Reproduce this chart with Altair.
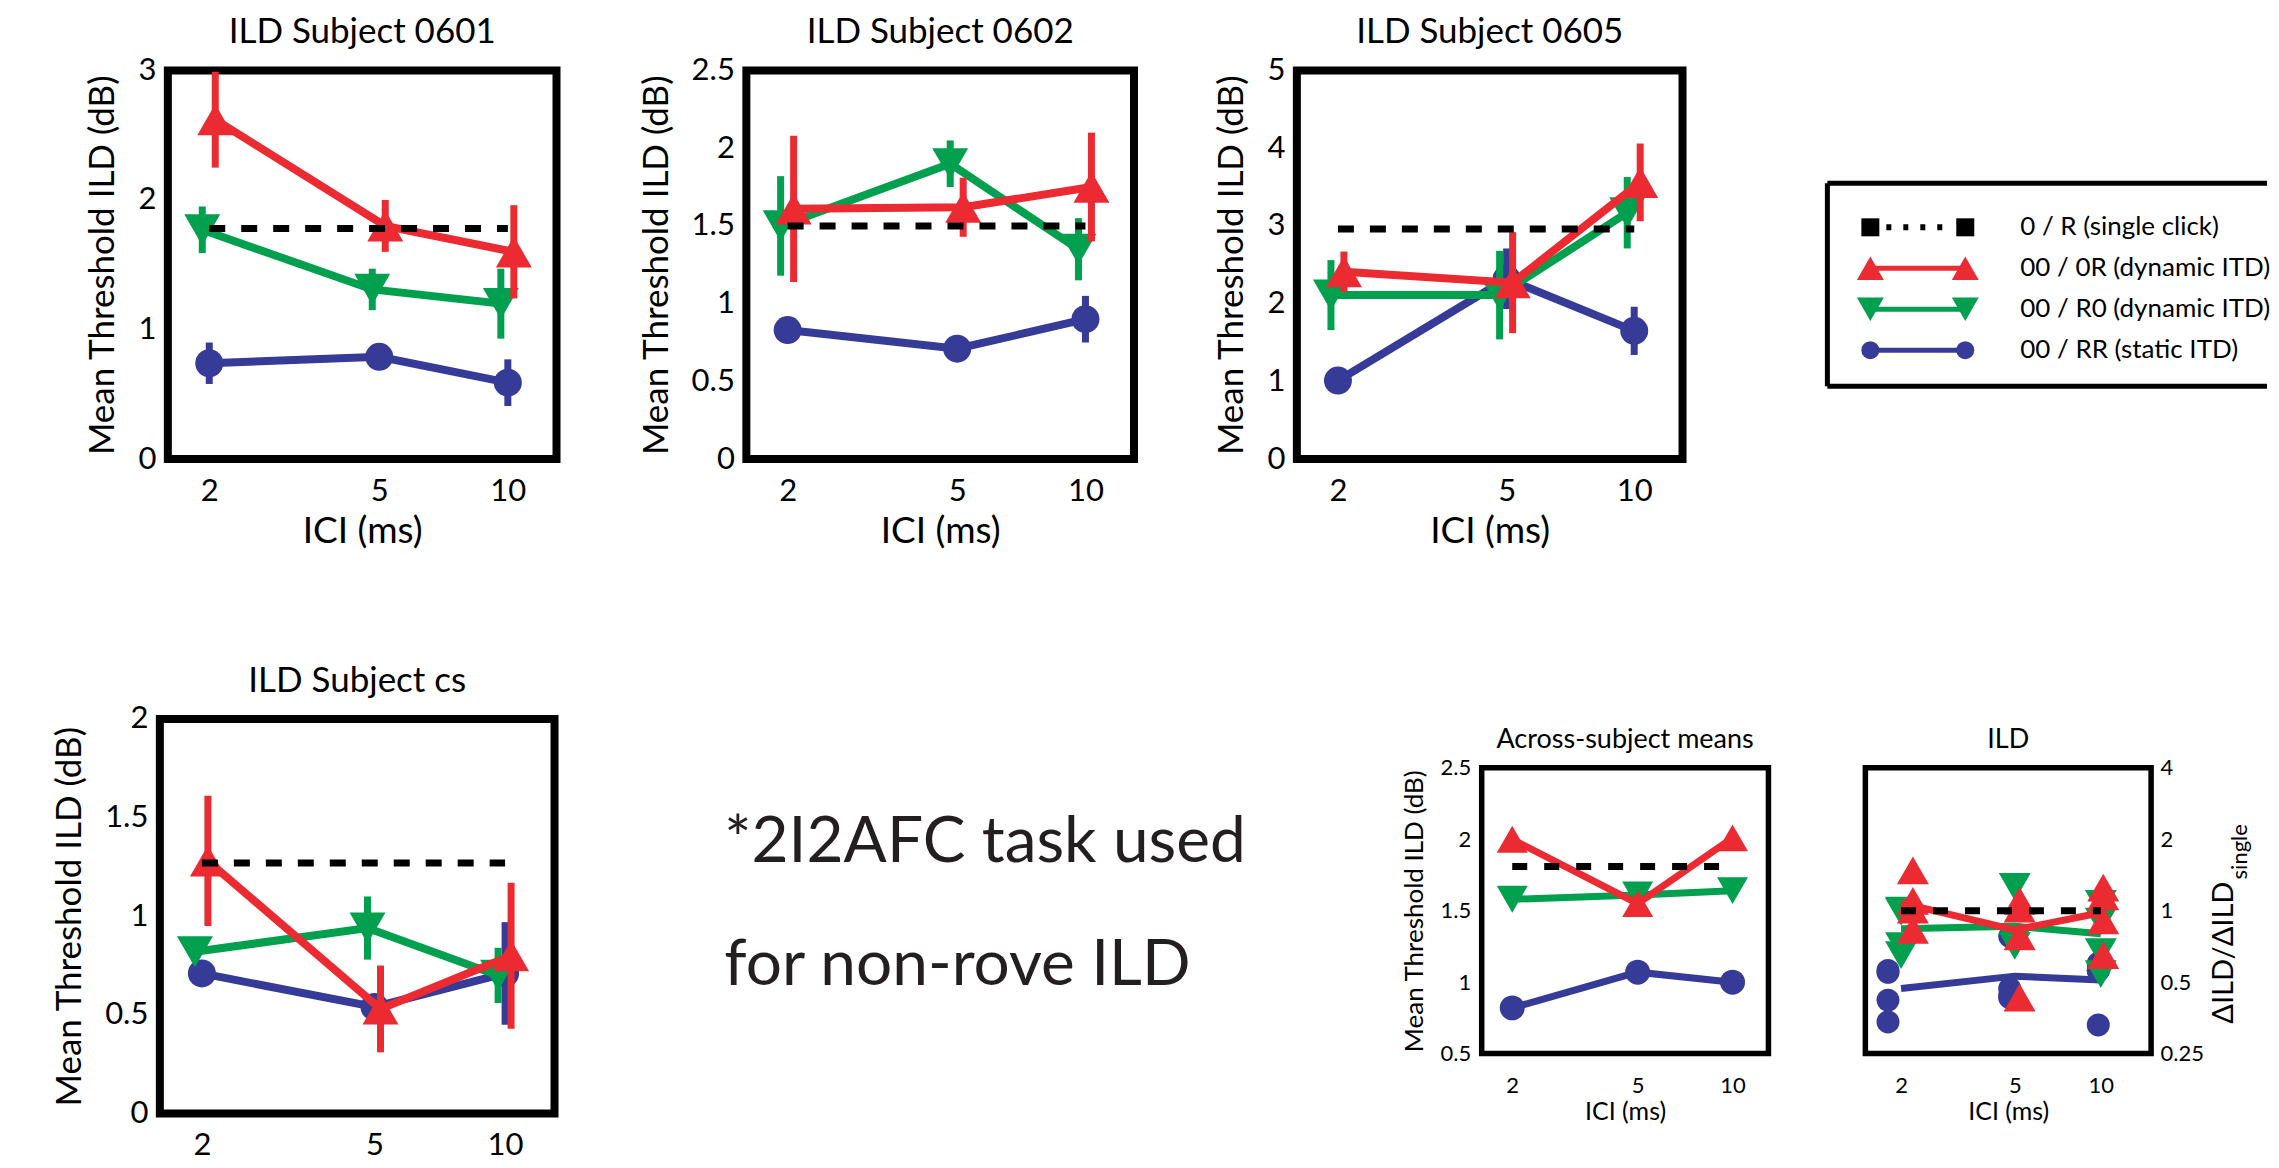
import altair as alt
import pandas as pd

FONT = "Lato"
RED = "#EC2A32"
GREEN = "#00A04E"
BLUE = "#363B97"
BLACK = "#000000"

ICI = [2, 5, 10]

# ---- Subject 0601 ----
S0601_RR = [0.74, 0.79, 0.59]
S0601_RR_ERR = [0.16, 0.05, 0.18]
S0601_R0 = [1.77, 1.31, 1.20]
S0601_R0_ERR = [0.18, 0.16, 0.27]
S0601_0R = [2.62, 1.80, 1.60]
S0601_0R_ERR = [0.37, 0.20, 0.36]
S0601_SINGLE = 1.78

# ---- Subject 0602 ----
S0602_RR = [0.83, 0.71, 0.90]
S0602_RR_ERR = [0.04, 0.04, 0.15]
S0602_R0 = [1.50, 1.90, 1.35]
S0602_R0_ERR = [0.32, 0.15, 0.20]
S0602_0R = [1.61, 1.62, 1.75]
S0602_0R_ERR = [0.47, 0.19, 0.35]
S0602_SINGLE = 1.50

# ---- Subject 0605 ----
S0605_RR = [1.01, 2.32, 1.65]
S0605_RR_ERR = [0.05, 0.39, 0.31]
S0605_R0 = [2.11, 2.11, 3.17]
S0605_R0_ERR = [0.45, 0.57, 0.46]
S0605_0R = [2.41, 2.27, 3.56]
S0605_0R_ERR = [0.26, 0.65, 0.50]
S0605_SINGLE = 2.96

# ---- Subject cs ----
SCS_RR = [0.71, 0.54, 0.71]
SCS_RR_ERR = [0.04, 0.05, 0.26]
SCS_R0 = [0.82, 0.94, 0.70]
SCS_R0_ERR = [0.05, 0.16, 0.14]
SCS_0R = [1.28, 0.53, 0.80]
SCS_0R_ERR = [0.33, 0.22, 0.37]
SCS_SINGLE = 1.27

# ---- Across-subject means ----
MEAN_RR = [0.82, 1.07, 1.00]
MEAN_R0 = [1.58, 1.61, 1.64]
MEAN_0R = [2.00, 1.55, 2.01]
MEAN_SINGLE = 1.81

# ---- Normalised ILD (ratio to single click), per subject ----
SUBJECTS = ["0601", "0602", "0605", "cs"]
NORM_0R = {"0601": [1.48, 1.02, 0.91], "0602": [1.10, 1.10, 1.15],
           "0605": [0.83, 0.78, 1.25], "cs": [1.01, 0.43, 0.65]}
NORM_R0 = {"0601": [0.99, 0.74, 0.67], "0602": [1.00, 1.26, 0.90],
           "0605": [0.71, 0.71, 1.07], "cs": [0.65, 0.74, 0.54]}
NORM_RR = {"0601": [0.42, 0.44, 0.33], "0602": [0.55, 0.47, 0.60],
           "0605": [0.34, 0.78, 0.56], "cs": [0.56, 0.43, 0.56]}
NORM_0R_MEAN = [1.08, 0.83, 0.98]
NORM_R0_MEAN = [0.84, 0.86, 0.80]
NORM_RR_MEAN = [0.47, 0.53, 0.51]
NORM_SINGLE = 1.0

LEG_LABELS = ["0 / R (single click)", "00 / 0R (dynamic ITD)",
              "00 / R0 (dynamic ITD)", "00 / RR (static ITD)"]
LEG_COLORS = [BLACK, RED, GREEN, BLUE]
LEG_SHAPES = ["square", "triangle-up", "triangle-down", "circle"]
LEG_SIZES = [324, 729, 729, 324]

NOTE_TEXT = "*2I2AFC task used\nfor non-rove ILD"

AX = dict(ticks=False, tickSize=0, domain=False, grid=False, labelFont=FONT,
          titleFont=FONT, labelColor="black", titleColor="black",
          titleFontWeight="normal", labelFontWeight="normal",
          labelFlush=False, labelOverlap=False)


def ci_frame(vals, errs):
    return pd.DataFrame({
        "ici": ICI, "val": vals,
        "lo": [v - e for v, e in zip(vals, errs)],
        "hi": [v + e for v, e in zip(vals, errs)],
    })


def spacer(w, h=10):
    return alt.Chart(pd.DataFrame({"a": [0]})).mark_point(opacity=0, size=1).encode(
        x=alt.value(w / 2), y=alt.value(h / 2)
    ).properties(width=w, height=h)


def title_layer(text, w, y, fs):
    return alt.Chart(pd.DataFrame({"t": [text]})).mark_text(
        align="center", baseline="alphabetic", fontSize=fs, font=FONT,
        color="black").encode(x=alt.value(w / 2), y=alt.value(y), text="t:N")


def frame_layer(w, top, bottom, sw):
    return alt.Chart(pd.DataFrame({"a": [0]})).mark_rect(
        fillOpacity=0, stroke="black", strokeWidth=sw).encode(
        x=alt.value(0), x2=alt.value(w), y=alt.value(top), y2=alt.value(bottom))


def main_panel(title, rr, rr_e, r0, r0_e, zr, zr_e, single, ymax, yticks,
               w, h, xtitle=True):
    xs = alt.Scale(type="log", domain=[1.6, 13], nice=False)
    ys = alt.Scale(domain=[0, ymax], nice=False, zero=False)
    xax = alt.Axis(values=ICI, format="d", title="ICI (ms)" if xtitle else None,
                   labelFontSize=31, titleFontSize=37, labelPadding=17,
                   titlePadding=7, **AX)
    yax = alt.Axis(values=yticks, format="~g", title="Mean Threshold ILD (dB)",
                   labelFontSize=31, titleFontSize=35, labelPadding=12,
                   titlePadding=17, **AX)
    X = alt.X("ici:Q", scale=xs, axis=xax)
    Y = alt.Y("val:Q", scale=ys, axis=yax)
    layers = []
    specs = [(rr, rr_e, BLUE, "circle", 0, 784),
             (r0, r0_e, GREEN, "triangle-down", -7, 1296),
             (zr, zr_e, RED, "triangle-up", 6, 1296)]
    for vals, errs, col, shp, dx, sz in specs:
        base = alt.Chart(ci_frame(vals, errs))
        layers.append(base.mark_line(color=col, strokeWidth=8, xOffset=dx)
                      .encode(x=X, y=Y))
        layers.append(base.mark_rule(color=col, strokeWidth=7, xOffset=dx)
                      .encode(x=X, y=alt.Y("lo:Q", scale=ys, axis=yax), y2="hi:Q"))
        layers.append(base.mark_point(shape=shp, filled=True, size=sz, color=col,
                                      opacity=1, strokeWidth=0, xOffset=dx)
                      .encode(x=X, y=Y))
    dash = alt.Chart(pd.DataFrame({"ici": [2, 10], "val": [single, single]})).mark_line(
        color="black", strokeWidth=7, strokeDash=[16, 16]).encode(x=X, y=Y)
    layers.append(dash)
    layers.append(title_layer(title, w, -27, 35))
    return alt.layer(*layers).properties(
        width=w, height=h,
        view=alt.ViewBackground(stroke="black", strokeWidth=8),
    )


# small panels: chart area is taller than the framed plot, frame starts at ST
ST = 49
SH = 335


def small_common_x(domain):
    xs = alt.Scale(type="log", domain=domain, nice=False)
    xax = alt.Axis(values=ICI, format="d", title="ICI (ms)", labelFontSize=22,
                   titleFontSize=25, labelPadding=22, titlePadding=3, **AX)
    return alt.X("ici:Q", scale=xs, axis=xax)


def means_panel(w):
    X = small_common_x([1.6, 13])
    ys = alt.Scale(domain=[0.5, 2.5], range=[SH, ST], nice=False, zero=False)
    yax = alt.Axis(values=[0.5, 1, 1.5, 2, 2.5], format="~g",
                   title="Mean Threshold ILD (dB)", labelFontSize=22,
                   titleFontSize=26, labelPadding=11, titlePadding=13, **AX)
    Y = alt.Y("val:Q", scale=ys, axis=yax)
    layers = []
    for vals, col, shp, sz in [(MEAN_RR, BLUE, "circle", 625),
                               (MEAN_R0, GREEN, "triangle-down", 961),
                               (MEAN_0R, RED, "triangle-up", 961)]:
        base = alt.Chart(pd.DataFrame({"ici": ICI, "val": vals}))
        layers.append(base.mark_line(color=col, strokeWidth=7).encode(x=X, y=Y))
        layers.append(base.mark_point(shape=shp, filled=True, size=sz, color=col,
                                      opacity=1, strokeWidth=0).encode(x=X, y=Y))
    layers.append(alt.Chart(pd.DataFrame({"ici": [2, 10], "val": [MEAN_SINGLE] * 2}))
                  .mark_line(color="black", strokeWidth=7, strokeDash=[15, 17])
                  .encode(x=X, y=Y))
    layers.append(frame_layer(w, ST, SH, 5.5))
    layers.append(title_layer("Across-subject means", w, ST - 20, 27))
    return alt.layer(*layers).properties(width=w, height=SH)


def norm_panel(w):
    X = small_common_x([1.5, 15])
    ys = alt.Scale(type="log", base=2, domain=[0.25, 4], range=[SH, ST], nice=False)
    yax = alt.Axis(orient="right", values=[0.25, 0.5, 1, 2, 4], format="~g",
                   title=None, labelFontSize=22, labelPadding=9, **AX)
    Y = alt.Y("val:Q", scale=ys, axis=yax)
    layers = []
    for pts, mean, col, shp, sz, dodge in [
        (NORM_RR, NORM_RR_MEAN, BLUE, "circle", 529, -0.2),
        (NORM_R0, NORM_R0_MEAN, GREEN, "triangle-down", 1024, 0.0),
        (NORM_0R, NORM_0R_MEAN, RED, "triangle-up", 1024, 0.2),
    ]:
        rows = []
        for s in SUBJECTS:
            for x, v in zip(ICI, pts[s]):
                rows.append({"ici": x + dodge, "val": v, "subject": s})
        layers.append(alt.Chart(pd.DataFrame(rows)).mark_point(
            shape=shp, filled=True, size=sz, color=col, opacity=1, strokeWidth=0)
            .encode(x=X, y=Y))
        layers.append(alt.Chart(pd.DataFrame({"ici": ICI, "val": mean}))
                      .mark_line(color=col, strokeWidth=7).encode(x=X, y=Y))
    layers.append(alt.Chart(pd.DataFrame({"ici": [2, 10], "val": [NORM_SINGLE] * 2}))
                  .mark_line(color="black", strokeWidth=7, strokeDash=[15, 17])
                  .encode(x=X, y=Y))
    lab = alt.Chart(pd.DataFrame({"t": ["\u0394ILD/\u0394ILD"]})).mark_text(
        angle=270, align="center", baseline="alphabetic", fontSize=29, font=FONT,
        color="black").encode(x=alt.value(w + 82), y=alt.value(ST + 185), text="t:N")
    sub = alt.Chart(pd.DataFrame({"t": ["single"]})).mark_text(
        angle=270, align="center", baseline="alphabetic", fontSize=22, font=FONT,
        color="black").encode(x=alt.value(w + 96), y=alt.value(ST + 84), text="t:N")
    layers += [frame_layer(w, ST, SH, 5.5), lab, sub,
               title_layer("ILD", w, ST - 20, 27)]
    return alt.layer(*layers).properties(width=w, height=SH)


def legend_panel(w, h):
    df = pd.DataFrame({"label": LEG_LABELS, "row": [0, 1, 2, 3],
                       "col": LEG_COLORS, "shp": LEG_SHAPES, "sz": LEG_SIZES})
    ys = alt.Scale(domain=[0, 3], range=[157, 280])
    Y = alt.Y("row:Q", scale=ys, axis=None)
    C = alt.Color("col:N", scale=None)
    one = alt.Chart(pd.DataFrame({"a": [0]}))
    box_top, box_bot = 113, 316
    layers = [
        one.mark_rule(color="black", strokeWidth=5).encode(
            x=alt.value(0), x2=alt.value(w), y=alt.value(box_top)),
        one.mark_rule(color="black", strokeWidth=5).encode(
            x=alt.value(0), x2=alt.value(w), y=alt.value(box_bot)),
        one.mark_rule(color="black", strokeWidth=5).encode(
            x=alt.value(0), y=alt.value(box_top), y2=alt.value(box_bot)),
    ]
    base = alt.Chart(df)
    layers.append(base.transform_filter("datum.row > 0").mark_rule(strokeWidth=5)
                  .encode(x=alt.value(43), x2=alt.value(138), y=Y, color=C))
    layers.append(base.transform_filter("datum.row == 0")
                  .mark_rule(strokeWidth=6, strokeDash=[5, 12])
                  .encode(x=alt.value(59), x2=alt.value(118), y=Y, color=C))
    for xv in (43, 138):
        layers.append(base.mark_point(filled=True, opacity=1, strokeWidth=0).encode(
            x=alt.value(xv), y=Y, color=C,
            shape=alt.Shape("shp:N", scale=None),
            size=alt.Size("sz:Q", scale=None)))
    layers.append(base.mark_text(align="left", baseline="middle", fontSize=26,
                                 font=FONT, color="black")
                  .encode(x=alt.value(193), y=Y, text="label:N"))
    return alt.layer(*layers).properties(width=w, height=h)


def note_panel(w, h):
    return alt.Chart(pd.DataFrame({"t": [NOTE_TEXT]})).mark_text(
        align="left", baseline="alphabetic", fontSize=64, font=FONT, color="#231f20",
        lineBreak="\n", lineHeight=123).encode(
        x=alt.value(170), y=alt.value(143), text="t:N").properties(width=w, height=h)


P = 389
P4S = 395
p1 = main_panel("ILD Subject 0601", S0601_RR, S0601_RR_ERR, S0601_R0, S0601_R0_ERR,
                S0601_0R, S0601_0R_ERR, S0601_SINGLE, 3, [0, 1, 2, 3], 389, P)
p2 = main_panel("ILD Subject 0602", S0602_RR, S0602_RR_ERR, S0602_R0, S0602_R0_ERR,
                S0602_0R, S0602_0R_ERR, S0602_SINGLE, 2.5, [0, 0.5, 1, 1.5, 2, 2.5],
                388, P)
p3 = main_panel("ILD Subject 0605", S0605_RR, S0605_RR_ERR, S0605_R0, S0605_R0_ERR,
                S0605_0R, S0605_0R_ERR, S0605_SINGLE, 5, [0, 1, 2, 3, 4, 5], 386, P)
p4 = main_panel("ILD Subject cs", SCS_RR, SCS_RR_ERR, SCS_R0, SCS_R0_ERR,
                SCS_0R, SCS_0R_ERR, SCS_SINGLE, 2, [0, 0.5, 1, 1.5, 2], 395, P4S,
                xtitle=False)

row1 = alt.hconcat(spacer(160), p1, spacer(190), p2, spacer(163), p3, spacer(145),
                   legend_panel(440, P), spacing=0, bounds="flush", center=True)
row2 = alt.hconcat(spacer(152), p4, note_panel(928, P4S), means_panel(287),
                   spacer(97), norm_panel(286), spacing=0, bounds="flush")

chart = alt.vconcat(row1, row2, spacing=107).properties(
    padding={"left": 0, "top": 3, "right": 0, "bottom": 0}
).configure(font=FONT, background="white").configure_view(stroke=None)

chart.save("out.html", embed_options={"renderer": "svg", "actions": False})
